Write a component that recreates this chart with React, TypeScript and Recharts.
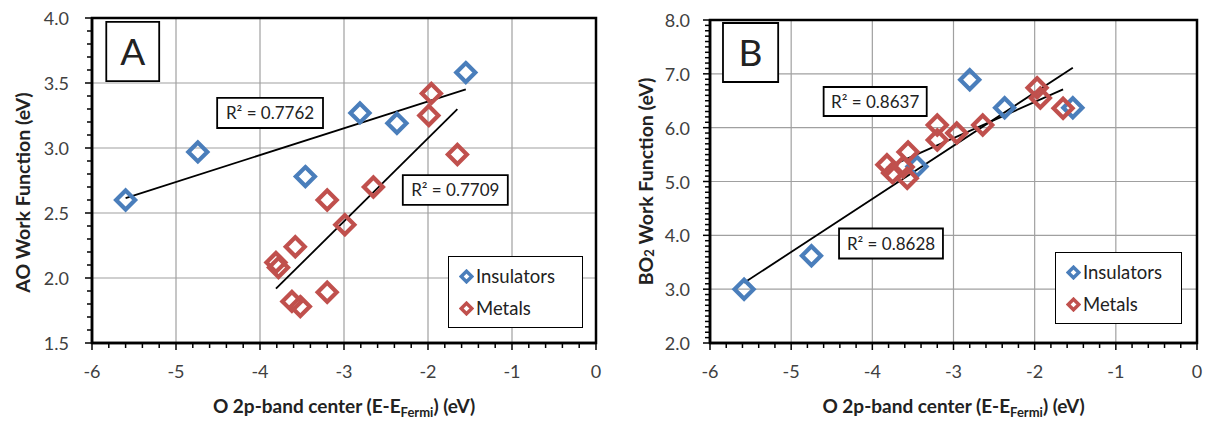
import React from 'react';
import { ScatterChart, Scatter, XAxis, YAxis, CartesianGrid, ReferenceLine, ReferenceArea, Legend } from 'recharts';

// O 2p-band centre (eV) and work function (eV)
const xInsulatorsA = [-5.6, -4.74, -3.46, -2.81, -2.37, -1.55];
const yInsulatorsA = [2.6, 2.97, 2.78, 3.27, 3.19, 3.58];
const xMetalsA = [-1.96, -1.99, -1.65, -2.65, -3.2, -2.99, -3.58, -3.81, -3.78, -3.2, -3.62, -3.52];
const yMetalsA = [3.42, 3.25, 2.95, 2.7, 2.6, 2.41, 2.24, 2.12, 2.08, 1.89, 1.82, 1.78];

const xInsulatorsB = [-5.58, -4.75, -3.45, -2.8, -2.37, -1.53];
const yInsulatorsB = [3.0, 3.62, 5.28, 6.89, 6.37, 6.37];
const xMetalsB = [-3.82, -3.75, -3.56, -3.62, -3.57, -3.2, -3.2, -2.96, -2.64, -1.97, -1.93, -1.65];
const yMetalsB = [5.31, 5.16, 5.55, 5.27, 5.06, 6.05, 5.77, 5.9, 6.05, 6.74, 6.55, 6.36];

const xTicks = [-6, -5, -4, -3, -2, -1, 0];
const yTicksA = [1.5, 2.0, 2.5, 3.0, 3.5, 4.0];
const yTicksB = [2, 3, 4, 5, 6, 7, 8];

const r2A = ['R² = 0.7762', 'R² = 0.7709'];
const r2B = ['R² = 0.8637', 'R² = 0.8628'];

const BLUE = '#4a7ebb';
const RED = '#c0504d';
const GRID = '#a0a0a0';
const TICK = '#404040';

const steps = (from: number, to: number, step: number) =>
  Array.from({ length: Math.round((to - from) / step) + 1 }, (_, i) => +(from + i * step).toFixed(2));

const isMajor = (v: number, majors: number[]) => majors.some((m) => Math.abs(m - v) < 1e-6);

const toPoints = (xs: number[], ys: number[]) => xs.map((x, i) => ({ x, y: ys[i] }));

// least-squares trendline spanning the data's x range
function trend(xs: number[], ys: number[]) {
  const n = xs.length;
  const mx = xs.reduce((a, b) => a + b, 0) / n;
  const my = ys.reduce((a, b) => a + b, 0) / n;
  let sxy = 0;
  let sxx = 0;
  xs.forEach((x, i) => {
    sxy += (x - mx) * (ys[i] - my);
    sxx += (x - mx) * (x - mx);
  });
  const slope = sxy / sxx;
  const b = my - slope * mx;
  const x0 = Math.min(...xs);
  const x1 = Math.max(...xs);
  return [{ x: x0, y: b + slope * x0 }, { x: x1, y: b + slope * x1 }];
}

const Diamond = (props: any) => {
  const { cx, cy, color } = props;
  const r = 9.5;
  return (
    <path
      d={`M${cx},${cy - r}L${cx + r},${cy}L${cx},${cy + r}L${cx - r},${cy}Z`}
      fill="none"
      stroke={color}
      strokeWidth={4.2}
    />
  );
};

const XTick = ({ x, y, payload }: any) => {
  const major = isMajor(payload.value, xTicks);
  return (
    <g>
      <line x1={x} x2={x} y1={y} y2={y + (major ? 7 : 5)} stroke="#000" strokeWidth={1.5} />
      {major && (
        <text x={x} y={y + 28} textAnchor="middle" dominantBaseline="central" fill={TICK} fontSize={18}>
          {String(payload.value)}
        </text>
      )}
    </g>
  );
};

const YTick = ({ x, y, payload, majors, gap }: any) => {
  const major = isMajor(payload.value, majors);
  return (
    <g>
      <line x1={x} x2={x - (major ? 7 : 5)} y1={y} y2={y} stroke="#000" strokeWidth={1.5} />
      {major && (
        <text x={x - gap} y={y} textAnchor="end" dominantBaseline="central" fill={TICK} fontSize={18}>
          {payload.value.toFixed(1)}
        </text>
      )}
    </g>
  );
};

const LegendBox = ({ payload }: any) => (
  <div style={{ border: '1.5px solid #000', background: '#fff', padding: '3px 0 3px 10px', boxSizing: 'border-box' }}>
    {(payload || []).map((entry: any) => (
      <div key={entry.value} style={{ display: 'flex', alignItems: 'center', height: 32, fontSize: 18.5, color: '#222' }}>
        <svg width={15} height={15} style={{ marginRight: 2 }}>
          <path d="M7.5,2.2L12.8,7.5L7.5,12.8L2.2,7.5Z" fill="none" stroke={entry.color} strokeWidth={3.4} />
        </svg>
        {entry.value}
      </div>
    ))}
  </div>
);

type Box = { x1: number; x2: number; y1: number; y2: number; text: string; size: number };

type PanelProps = {
  width: number;
  plotWidth: number;
  marginTop: number;
  yWidth: number;
  yDomain: [number, number];
  yTicks: number[];
  yLabelGap: number;
  yTitle: React.ReactNode;
  yTitleX: number;
  yTitleDy: number;
  ins: { x: number[]; y: number[] };
  met: { x: number[]; y: number[] };
  boxes: Box[];
  legendAt: { left: number; top: number; width: number };
};

const Panel = (p: PanelProps) => {
  const insData = toPoints(p.ins.x, p.ins.y);
  const metData = toPoints(p.met.x, p.met.y);
  const insLine = trend(p.ins.x, p.ins.y);
  const metLine = trend(p.met.x, p.met.y);
  const right = p.width - p.yWidth - p.plotWidth;
  return (
    <ScatterChart width={p.width} height={421} margin={{ top: p.marginTop, right, bottom: 0, left: 0 }}>
      <CartesianGrid stroke={GRID} strokeWidth={1.2} horizontalValues={p.yTicks} verticalValues={xTicks} />
      <XAxis
        type="number"
        dataKey="x"
        domain={[-6, 0]}
        ticks={steps(-6, 0, 0.2)}
        interval={0}
        tick={<XTick />}
        tickLine={false}
        axisLine={{ stroke: '#000', strokeWidth: 2.5 }}
        tickSize={0}
        tickMargin={0}
        height={78}
        allowDataOverflow
        label={{
          content: ({ viewBox }: any) => (
            <text
              x={viewBox.x + viewBox.width / 2}
              y={viewBox.y + 70}
              textAnchor="middle"
              fontWeight="bold"
              fontSize={19}
              fill="#222"
            >
              O 2p-band center (E-E
              <tspan fontSize={13} dy={4}>Fermi</tspan>
              <tspan dy={-4}>) (eV)</tspan>
            </text>
          ),
        }}
      />
      <YAxis
        type="number"
        dataKey="y"
        domain={p.yDomain}
        ticks={steps(p.yDomain[0], p.yDomain[1], 0.1)}
        interval={0}
        tick={<YTick majors={p.yTicks} gap={p.yLabelGap} />}
        tickLine={false}
        axisLine={{ stroke: '#000', strokeWidth: 2.5 }}
        tickSize={0}
        tickMargin={0}
        width={p.yWidth}
        allowDataOverflow
        label={{
          content: ({ viewBox }: any) => {
            const cx = viewBox.x + p.yTitleX;
            const cy = viewBox.y + viewBox.height / 2 + p.yTitleDy;
            return (
              <text
                x={cx}
                y={cy}
                transform={`rotate(-90 ${cx} ${cy})`}
                textAnchor="middle"
                dominantBaseline="central"
                fontWeight="bold"
                fontSize={19.5}
                fill="#222"
              >
                {p.yTitle}
              </text>
            );
          },
        }}
      />
      <ReferenceArea
        x1={-6}
        x2={0}
        y1={p.yDomain[0]}
        y2={p.yDomain[1]}
        fill="none"
        stroke="#000"
        strokeWidth={2.5}
        ifOverflow="visible"
      />
      <Scatter
        name="Insulators"
        data={insData}
        fill={BLUE}
        isAnimationActive={false}
        shape={(s: any) => <Diamond {...s} color={BLUE} />}
      />
      <Scatter
        name="Metals"
        data={metData}
        fill={RED}
        isAnimationActive={false}
        shape={(s: any) => <Diamond {...s} color={RED} />}
      />
      <ReferenceLine segment={insLine} stroke="#000" strokeWidth={1.8} />
      <ReferenceLine segment={metLine} stroke="#000" strokeWidth={1.8} />
      {p.boxes.map((b) => (
        <ReferenceArea
          key={b.text}
          x1={b.x1}
          x2={b.x2}
          y1={b.y1}
          y2={b.y2}
          fill="#fff"
          fillOpacity={1}
          stroke="#000"
          strokeWidth={1.8}
          label={{ value: b.text, position: 'center', fontSize: b.size, fill: '#222' }}
        />
      ))}
      <Legend
        layout="vertical"
        align="center"
        verticalAlign="middle"
        content={<LegendBox />}
        wrapperStyle={{ left: p.legendAt.left, top: p.legendAt.top, width: p.legendAt.width }}
      />
    </ScatterChart>
  );
};

export default function App() {
  return (
    <div style={{ position: 'absolute', left: 0, top: 0, width: 1213, height: 421, background: '#fff', fontFamily: 'Lato, sans-serif' }}>
      <div style={{ position: 'absolute', left: 0, top: 0 }}>
        <Panel
          width={606}
          plotWidth={504}
          marginTop={18}
          yWidth={92}
          yDomain={[1.5, 4.0]}
          yTicks={yTicksA}
          yLabelGap={23}
          yTitle="AO Work Function (eV)"
          yTitleX={22}
          yTitleDy={12}
          ins={{ x: xInsulatorsA, y: yInsulatorsA }}
          met={{ x: xMetalsA, y: yMetalsA }}
          boxes={[
            { x1: -5.83, x2: -5.2, y1: 3.515, y2: 3.97, text: 'A', size: 37 },
            { x1: -4.51, x2: -3.25, y1: 3.154, y2: 3.385, text: r2A[0], size: 17 },
            { x1: -2.3, x2: -1.05, y1: 2.562, y2: 2.792, text: r2A[1], size: 17 },
          ]}
          legendAt={{ left: 448, top: 256, width: 135 }}
        />
      </div>
      <div style={{ position: 'absolute', left: 610, top: 0 }}>
        <Panel
          width={600}
          plotWidth={487}
          marginTop={20}
          yWidth={100}
          yDomain={[2, 8]}
          yTicks={yTicksB}
          yLabelGap={20}
          yTitle={
            <>
              BO<tspan fontSize={13} dy={4}>2</tspan>
              <tspan dy={-4}> Work Function (eV)</tspan>
            </>
          }
          yTitleX={35}
          yTitleDy={0}
          ins={{ x: xInsulatorsB, y: yInsulatorsB }}
          met={{ x: xMetalsB, y: yMetalsB }}
          boxes={[
            { x1: -5.84, x2: -5.16, y1: 6.848, y2: 7.944, text: 'B', size: 37 },
            { x1: -4.6, x2: -3.33, y1: 6.217, y2: 6.755, text: r2B[0], size: 17 },
            { x1: -4.41, x2: -3.13, y1: 3.57, y2: 4.127, text: r2B[1], size: 17 },
          ]}
          legendAt={{ left: 445, top: 252, width: 127 }}
        />
      </div>
    </div>
  );
}
